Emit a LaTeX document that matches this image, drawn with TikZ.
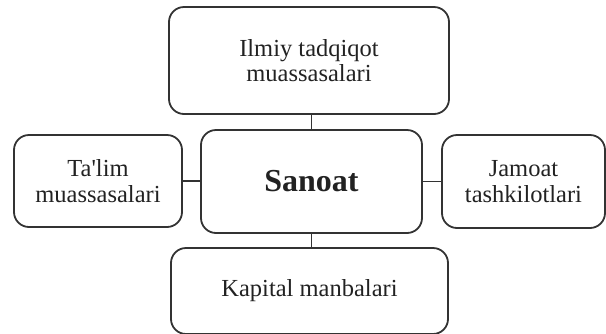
\documentclass[tikz,border=0pt]{standalone}
\usepackage{fontspec}
\setmainfont{Liberation Serif}
\definecolor{boxline}{HTML}{333333}
\definecolor{boxtext}{HTML}{222222}

\tikzset{
	box/.style={draw=boxline, line width=1.8pt, rounded corners=15pt, align=center,
		text=boxtext, font=\fontsize{24.5}{25.5}\selectfont, inner sep=0pt},
	link/.style={draw=boxline, line width=1.6pt},
}

\begin{document}
\begin{tikzpicture}[x=1pt,y=-1pt]
	\useasboundingbox (0,0) rectangle (606,333);
	\node[box, minimum width=280pt, minimum height=107pt] (ilmiy) at (309,60.5) {Ilmiy tadqiqot\\muassasalari};
	\node[box, minimum width=221pt, minimum height=103pt, font=\bfseries\fontsize{32}{34}\selectfont] (sanoat) at (311.5,181.5) {Sanoat};
	\node[box, minimum width=168pt, minimum height=92pt] (talim) at (98,181) {Ta\textquotesingle lim\\muassasalari};
	\node[box, minimum width=163pt, minimum height=93pt] (jamoat) at (523.5,181.5) {Jamoat\\tashkilotlari};
	\node[box, minimum width=277pt, minimum height=86pt] (kapital) at (309.5,291) {Kapital manbalari};
	\draw[link] (ilmiy.south -| sanoat.north) -- (sanoat.north); % top
	\draw[link] (sanoat.south) -- (sanoat.south |- kapital.north); % bottom
	\draw[link] (talim.east) -- (talim.east -| sanoat.west); % left
	\draw[link] (sanoat.east) -- (sanoat.east |- jamoat.west) -- (jamoat.west); % right
\end{tikzpicture}
\end{document}
